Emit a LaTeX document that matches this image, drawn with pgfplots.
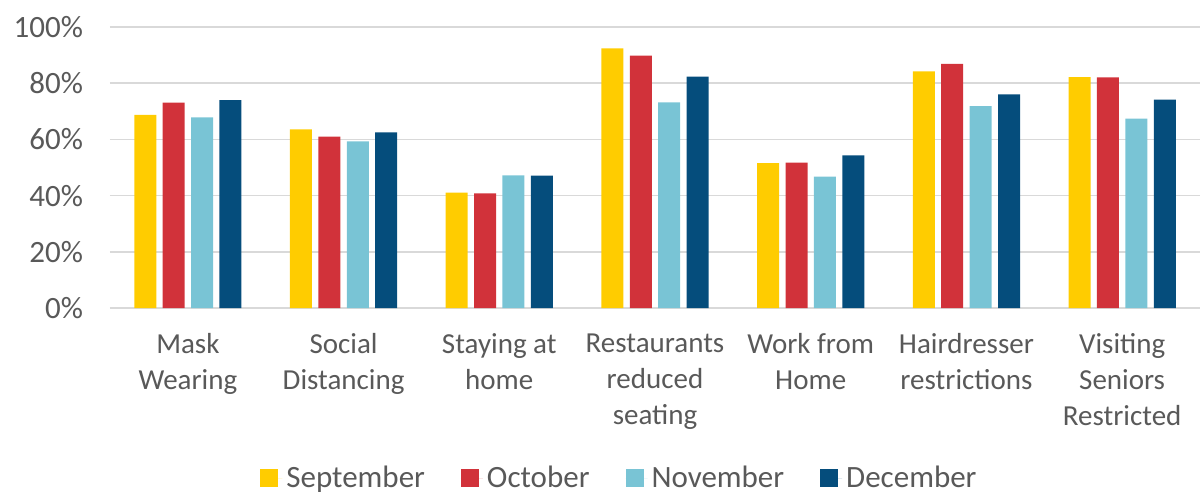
\documentclass[border=0pt]{standalone}
\usepackage{fontspec}
\setmainfont{Carlito}
\usepackage{pgfplots}
\pgfplotsset{compat=1.18}
\definecolor{cSep}{HTML}{FFCC00}
\definecolor{cOct}{HTML}{D1323A}
\definecolor{cNov}{HTML}{79C4D5}
\definecolor{cDec}{HTML}{054D7C}
\definecolor{txt}{HTML}{595959}
\definecolor{grd}{HTML}{D9D9D9}
\begin{document}
\begin{tikzpicture}
\path[use as bounding box] (-55pt,-93pt) rectangle (546pt,154pt);
\begin{axis}[
  at={(0,0)}, anchor=south west,
  scale only axis, width=545pt, height=140.5pt,
  ybar=3.2pt, bar width=11pt,
  xmin=-0.5, xmax=6.5, ymin=0, ymax=100,
  xtick={0,1,2,3,4,5,6},
  xticklabels={{Mask\\Wearing},{Social\\Distancing},{Staying at\\home},{Restaurants\\reduced\\seating},{Work from\\Home},{Hairdresser\\restrictions},{Visiting\\Seniors\\Restricted}},
  ytick={0,20,40,60,80,100},
  yticklabel={\pgfmathprintnumber{\tick}\%},
  /pgf/number format/assume math mode=true,
  ymajorgrids, grid style={grd, line width=0.8pt},
  axis line style={draw=none},
  major tick style={draw=none},
  xticklabel style={font=\fontsize{14.5pt}{18pt}\selectfont, text=txt, align=center, anchor=north, yshift=-5pt},
  yticklabel style={font=\fontsize{15.5pt}{18pt}\selectfont, text=txt, anchor=east, xshift=-10pt},
  legend style={at={(0.4683,-0.605)}, anchor=center, draw=none, fill=none,
    legend columns=4, font=\fontsize{15.5pt}{18pt}\selectfont, text=txt,
    /tikz/every even column/.append style={column sep=16pt},
    legend cell align=left},
  legend image code/.code={\path (0pt,0pt) -- (11pt,0pt); \fill[#1] (0pt,-4.5pt) rectangle (9pt,4.5pt);},
]
\addplot[fill=cSep, draw=none] coordinates {(0,68.7) (1,63.6) (2,41.1) (3,92.4) (4,51.6) (5,84.2) (6,82.2)};
\addplot[fill=cOct, draw=none] coordinates {(0,73.1) (1,61.0) (2,40.8) (3,89.8) (4,51.7) (5,86.9) (6,82.1)};
\addplot[fill=cNov, draw=none] coordinates {(0,67.8) (1,59.3) (2,47.2) (3,73.2) (4,46.8) (5,71.8) (6,67.4)};
\addplot[fill=cDec, draw=none] coordinates {(0,74.0) (1,62.5) (2,47.1) (3,82.3) (4,54.3) (5,76.0) (6,74.2)};
\legend{September,October,November,December}
\end{axis}
\end{tikzpicture}
\end{document}
